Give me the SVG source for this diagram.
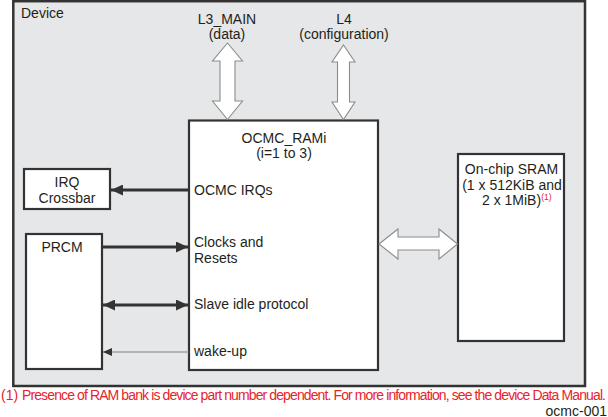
<svg xmlns="http://www.w3.org/2000/svg" width="608" height="417" viewBox="0 0 608 417">
<style>
  .box{fill:#ffffff;stroke:#333333;stroke-width:2.2}
  .t{font-family:"Liberation Sans",Arial,sans-serif;font-size:14px;fill:#231f20}
  .c{text-anchor:middle}
  .red{fill:#e8242b}
  .blk{fill:#ffffff;stroke:#8c8c8c;stroke-width:1.1;stroke-linejoin:miter}
  .wire{stroke:#333333;stroke-width:2.8;fill:none}
  .thin{stroke:#808080;stroke-width:1.2;fill:none}
</style>
<defs>
  <marker id="ah" viewBox="0 0 12 11" refX="12" refY="5.5" markerWidth="12" markerHeight="11" markerUnits="userSpaceOnUse" orient="auto-start-reverse">
    <path d="M0,0 L12,5.5 L0,11 Z" fill="#333333"/>
  </marker>
  <marker id="ahs" viewBox="0 0 9 8" refX="9" refY="4" markerWidth="9" markerHeight="8" markerUnits="userSpaceOnUse" orient="auto-start-reverse">
    <path d="M0,0 L9,4 L0,8 Z" fill="#333333"/>
  </marker>
</defs>

<g id="device">
  <rect x="13.3" y="1.2" width="571.7" height="384.8" fill="#e6e7e8" stroke="#333333" stroke-width="2.5"/>
  <text class="t" x="21" y="18">Device</text>
</g>

<g id="l3main">
  <text class="t c" x="227" y="24">L3_MAIN</text>
  <text class="t c" x="227" y="39">(data)</text>
</g>
<g id="l4">
  <text class="t c" x="344" y="24">L4</text>
  <text class="t c" x="344" y="39">(configuration)</text>
</g>

<g id="ocmc_rami">
  <rect class="box" x="189" y="120.5" width="189" height="249.5"/>
  <text class="t c" x="284" y="143">OCMC_RAMi</text>
  <text class="t c" x="284" y="158">(i=1 to 3)</text>
  <text class="t" x="194" y="195">OCMC IRQs</text>
  <text class="t" x="194" y="247">Clocks and</text>
  <text class="t" x="194" y="263">Resets</text>
  <text class="t" x="194" y="309">Slave idle protocol</text>
  <text class="t" x="194" y="356">wake-up</text>
</g>

<g id="irq_crossbar">
  <rect class="box" x="24" y="169" width="86" height="40"/>
  <text class="t c" x="67" y="187">IRQ</text>
  <text class="t c" x="67" y="203">Crossbar</text>
</g>

<g id="prcm">
  <rect class="box" x="26" y="234" width="76" height="135"/>
  <text class="t c" x="62" y="252">PRCM</text>
</g>

<g id="sram">
  <rect class="box" x="458" y="154" width="106" height="187"/>
  <text class="t c" x="511.5" y="174">On-chip SRAM</text>
  <text class="t c" x="512" y="189.5">(1 x 512KiB and</text>
  <text class="t" x="482" y="205">2 x 1MiB)<tspan class="red" font-size="8.5px" dy="-5.5">(1)</tspan></text>
</g>

<g id="connectors">
  <path class="blk" d="M227.5,43 L242.5,61 L235,61 L235,101 L242.5,101 L227.5,119.5 L212.5,101 L220,101 L220,61 L212.5,61 Z"/>
  <path class="blk" d="M343.5,45 L355,62 L349.5,62 L349.5,102 L355,102 L343.5,119.5 L332,102 L337.5,102 L337.5,62 L332,62 Z"/>
  <path class="blk" d="M379,244 L398,229 L398,237 L439,237 L439,229 L457.5,244 L439,259 L439,250 L398,250 L398,259 Z"/>
  <line class="wire" x1="189" y1="190" x2="111" y2="190" marker-end="url(#ah)"/>
  <line class="wire" x1="102" y1="247" x2="188" y2="247" marker-end="url(#ah)"/>
  <line class="wire" x1="103" y1="305" x2="188" y2="305" marker-start="url(#ah)" marker-end="url(#ah)"/>
  <line class="thin" x1="189" y1="352" x2="103" y2="352" marker-end="url(#ahs)"/>
</g>

<g id="footnote">
  <text class="t red" font-size="12px" x="1" y="400">(1)</text>
  <text class="t red" font-size="12px" x="22" y="400" textLength="584" lengthAdjust="spacing">Presence of RAM bank is device part number dependent. For more information, see the device Data Manual.</text>
  <text class="t" font-size="8.5px" x="607" y="415.5" fill="#333333" text-anchor="end">ocmc-001</text>
</g>
</svg>
